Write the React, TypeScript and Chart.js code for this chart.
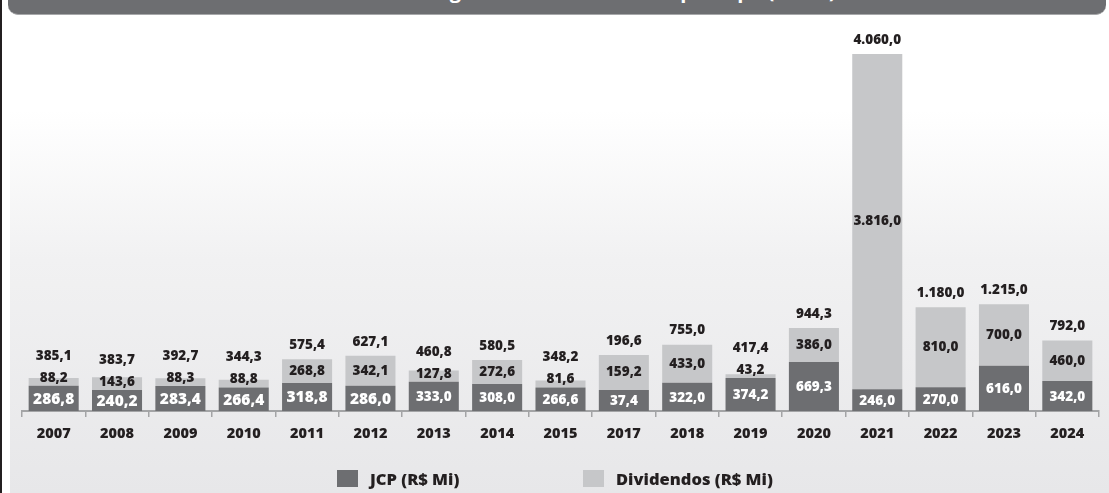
import React, { useEffect, useRef } from "react";
import { Chart, registerables } from "chart.js";

Chart.register(...registerables);

const titleText = "Histórico de Pagamento de Proventos por Tipo (R$ Mi)";
const categories = ["2007", "2008", "2009", "2010", "2011", "2012", "2013", "2014", "2015", "2017", "2018", "2019", "2020", "2021", "2022", "2023", "2024"];
const seriesNames = ["JCP (R$ Mi)", "Dividendos (R$ Mi)"];
// bar heights as drawn in the picture
const jcpValues = [286.8, 240.2, 283.4, 266.4, 318.8, 286.0, 333.0, 308.0, 266.6, 239, 322.0, 374.2, 558, 246.0, 270.0, 515, 342.0];
const dividendValues = [88.2, 143.6, 88.3, 88.8, 268.8, 342.1, 127.8, 272.6, 81.6, 398, 433.0, 43.2, 386.0, 3816.0, 910, 700.0, 460.0];
// labels as printed in the picture
const jcpLabels = ["286,8", "240,2", "283,4", "266,4", "318,8", "286,0", "333,0", "308,0", "266,6", "37,4", "322,0", "374,2", "669,3", "246,0", "270,0", "616,0", "342,0"];
const dividendLabels = ["88,2", "143,6", "88,3", "88,8", "268,8", "342,1", "127,8", "272,6", "81,6", "159,2", "433,0", "43,2", "386,0", "3.816,0", "810,0", "700,0", "460,0"];
const totalLabels = ["385,1", "383,7", "392,7", "344,3", "575,4", "627,1", "460,8", "580,5", "348,2", "196,6", "755,0", "417,4", "944,3", "4.060,0", "1.180,0", "1.215,0", "792,0"];

const FONT = '"Open Sans", "Noto Sans", sans-serif';
const DARK = "#6d6e71";
const LIGHT = "#c6c7c9";
const TEXT = "#231f20";

const labelPlugin = {
  id: "barLabels",
  afterDatasetsDraw(chart: any) {
    const ctx = chart.ctx;
    const m0 = chart.getDatasetMeta(0);
    const m1 = chart.getDatasetMeta(1);
    ctx.save();
    ctx.textAlign = "center";
    ctx.textBaseline = "middle";
    categories.forEach((_, i) => {
      const b0 = m0.data[i];
      const b1 = m1.data[i];
      const x = b0.x;
      const big = i < 6;
      ctx.font = `800 ${big ? 15.5 : 13.5}px ${FONT}`;
      ctx.fillStyle = "#ffffff";
      ctx.fillText(jcpLabels[i], x, (b0.y + b0.base) / 2 + 1);
      const segCenter = (b1.y + b1.base) / 2;
      const divY = Math.min(segCenter, b0.y - 8);
      ctx.font = `800 13.5px ${FONT}`;
      ctx.fillStyle = TEXT;
      ctx.fillText(dividendLabels[i], x, divY);
      const totY = Math.min(b1.y - 14, divY - 22);
      ctx.fillText(totalLabels[i], x, totY);
    });
    ctx.restore();
  },
};

export default function App() {
  const ref = useRef<HTMLCanvasElement | null>(null);

  useEffect(() => {
    if (!ref.current) return;
    const chart = new Chart(ref.current, {
      type: "bar",
      data: {
        labels: categories,
        datasets: [
          {
            label: seriesNames[0],
            data: jcpValues,
            backgroundColor: DARK,
            borderWidth: 0,
            categoryPercentage: 0.79,
            barPercentage: 1,
          },
          {
            label: seriesNames[1],
            data: dividendValues,
            backgroundColor: LIGHT,
            borderWidth: 0,
            categoryPercentage: 0.79,
            barPercentage: 1,
          },
        ],
      },
      options: {
        animation: false,
        responsive: false,
        devicePixelRatio: 1,
        layout: { padding: { left: 22, right: 10, top: 33, bottom: 0 } },
        plugins: {
          legend: { display: false },
          tooltip: { enabled: false },
          title: { display: false },
        },
        scales: {
          x: {
            stacked: true,
            grid: {
              display: true,
              drawOnChartArea: false,
              drawTicks: true,
              tickLength: 6,
              color: "#a3a4a6",
              lineWidth: 1.5,
              offset: true,
            },
            border: { display: true, color: "#a3a4a6", width: 2 },
            ticks: {
              color: TEXT,
              font: { family: FONT, size: 14.5, weight: "800" },
              padding: 8,
              maxRotation: 0,
              autoSkip: false,
            },
            afterFit: (s: any) => {
              s.height = 82;
            },
          },
          y: {
            stacked: true,
            display: false,
            min: 0,
            max: 4300,
          },
        },
      },
      plugins: [labelPlugin],
    } as any);
    return () => chart.destroy();
  }, []);

  return (
    <div style={{ position: "absolute", left: 0, top: 0, width: 1109, height: 493, overflow: "hidden", background: "#ffffff", fontFamily: FONT }}>
      <div
        style={{
          position: "absolute",
          left: 10,
          top: 0,
          width: 1099,
          height: 493,
          background: "linear-gradient(180deg, #ffffff 0px, #ffffff 110px, #f1f1f2 260px, #e7e7e9 493px)",
        }}
      />
      <div style={{ position: "absolute", left: 0, top: 0, width: 2, height: 493, background: TEXT }} />
      <div
        style={{
          position: "absolute",
          left: 8,
          top: 0,
          width: 1098,
          height: 14,
          background: DARK,
          borderBottomLeftRadius: 10,
          borderBottomRightRadius: 10,
          borderBottom: "1px solid #a7a8aa",
          overflow: "hidden",
        }}
      >
        <div
          style={{
            position: "absolute",
            left: 0,
            top: -19,
            width: 1098,
            paddingLeft: 22,
            boxSizing: "border-box",
            textAlign: "center",
            color: "#ffffff",
            fontWeight: 700,
            fontSize: 20,
            lineHeight: "20px",
            whiteSpace: "nowrap",
          }}
        >
          {titleText}
        </div>
      </div>
      <canvas ref={ref} width={1109} height={493} style={{ position: "absolute", left: 0, top: 0, width: 1109, height: 493 }} />
      {[0, 1].map((k) => (
        <div
          key={k}
          style={{
            position: "absolute",
            left: k === 0 ? 337 : 583,
            top: 470,
            height: 17,
            display: "flex",
            alignItems: "center",
            gap: 12,
          }}
        >
          <div style={{ width: 21, height: 17, background: k === 0 ? DARK : LIGHT }} />
          <div style={{ color: TEXT, fontWeight: 800, fontSize: 16.5, lineHeight: "17px", whiteSpace: "nowrap" }}>{seriesNames[k]}</div>
        </div>
      ))}
    </div>
  );
}
